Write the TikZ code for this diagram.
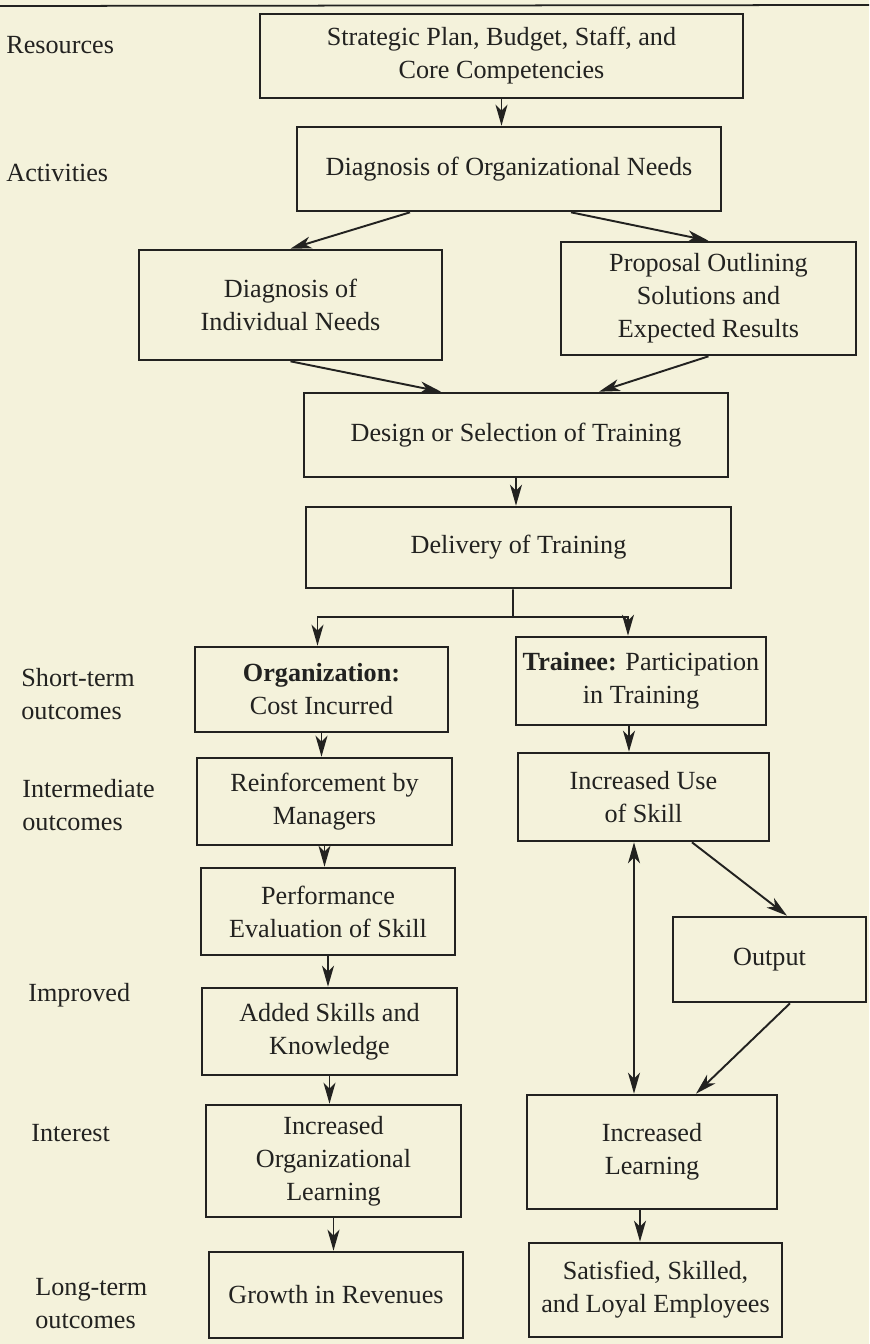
\documentclass[tikz,border=0pt]{standalone}
\usepackage{fontspec}
\setmainfont{Liberation Serif}
\usepackage{tikz}
\usetikzlibrary{arrows.meta,positioning}
\definecolor{paper}{HTML}{F4F2DB}
\definecolor{ink}{HTML}{222220}
\tikzset{
	box/.style={draw=ink,rectangle,align=center,line width=1.5pt,inner sep=2pt,text=ink,font=\fontsize{14.9}{18.8}\selectfont},
	stage/.style={anchor=west,align=left,inner xsep=0pt,text=ink,font=\fontsize{14.9}{18.8}\selectfont},
	link/.style={draw=ink,line width=1.1pt},
	>={Stealth[length=0.42cm,width=0.24cm,inset=0.12cm]}
}

\begin{document}
\begin{tikzpicture}
		\fill[paper] (0,0) rectangle (17.38,-26.88);
		\useasboundingbox (0,0) rectangle (17.38,-26.88);
		\draw[ink,line width=1pt] (0,-0.12) -- (17.38,-0.1);
		
		% stages on the left
		\node[stage] (res) at (0.12,-0.90) {Resources};
		\node[stage] (act) at (0.12,-3.46) {Activities};
		\node[stage] (short) at (0.42,-13.88) {Short-term\\outcomes};
		\node[stage] (inter) at (0.44,-16.10) {Intermediate\\outcomes};
		\node[stage] (impr) at (0.56,-19.90) {Improved};
		\node[stage] (intr) at (0.62,-22.66) {Interest};
		\node[stage] (long) at (0.70,-26.08) {Long-term\\outcomes};
		
		% activities
		\node[box,minimum width=9.66cm,minimum height=1.68cm] (strat) at (10.03,-1.12) {Strategic Plan, Budget, Staff, and\\Core Competencies};
		\node[box,minimum width=8.48cm,minimum height=1.68cm] (orgneeds) at (10.18,-3.38) {Diagnosis of Organizational Needs};
		\node[box,minimum width=6.06cm,minimum height=2.20cm] (indneeds) at (5.81,-6.10) {Diagnosis of\\Individual Needs};
		\node[box,minimum width=5.90cm,minimum height=2.26cm] (proposal) at (14.17,-5.97) {Proposal Outlining\\Solutions and\\Expected Results};
		\node[box,minimum width=8.48cm,minimum height=1.68cm] (design) at (10.32,-8.70) {Design or Selection of Training};
		\node[box,minimum width=8.50cm,minimum height=1.62cm] (delivery) at (10.37,-10.95) {Delivery of Training};
		\coordinate (split) at (10.26,-12.34); % branch point
		
		% organization side
		\node[box,minimum width=5.06cm,minimum height=1.70cm] (org) at (6.43,-13.79) {\textbf{Organization:}\\Cost Incurred};
		\node[box,minimum width=5.10cm,minimum height=1.74cm] (reinf) at (6.49,-16.03) {Reinforcement by\\Managers};
		\node[box,minimum width=5.08cm,minimum height=1.74cm] (perf) at (6.56,-18.23) {Performance\\Evaluation of Skill};
		\node[box,minimum width=5.10cm,minimum height=1.74cm] (added) at (6.59,-20.63) {Added Skills and\\Knowledge};
		\node[box,minimum width=5.10cm,minimum height=2.24cm] (incorg) at (6.67,-23.22) {Increased\\Organizational\\Learning};
		\node[box,minimum width=5.08cm,minimum height=1.72cm] (growth) at (6.72,-25.90) {Growth in Revenues};
		
		% trainee side
		\node[box,minimum width=5.00cm,minimum height=1.76cm] (trainee) at (12.82,-13.62) {\textbf{Trainee:} Participation\\in Training};
		\node[box,minimum width=5.02cm,minimum height=1.76cm] (incuse) at (12.87,-15.94) {Increased Use\\of Skill};
		\node[box,minimum width=3.86cm,minimum height=1.70cm] (output) at (15.39,-19.19) {Output};
		\node[box,minimum width=5.00cm,minimum height=2.28cm] (inclearn) at (13.04,-23.04) {Increased\\Learning};
		\node[box,minimum width=5.06cm,minimum height=1.88cm] (satisfied) at (13.11,-25.80) {Satisfied, Skilled,\\and Loyal Employees};
		
		\draw[->,link] (strat.south) -- (strat.south |- orgneeds.north);
		\draw[->,link] ([xshift=-1.98cm]orgneeds.south) -- (indneeds.north);
		\draw[->,link] ([xshift=1.24cm]orgneeds.south) -- (proposal.north);
		\draw[->,link] (indneeds.south) -- ([xshift=-1.5cm]design.north);
		\draw[->,link] (proposal.south) -- ([xshift=1.66cm]design.north);
		\draw[->,link] (design.south) -- (design.south |- delivery.north);
		\draw[link] ([xshift=-0.11cm]delivery.south) -- (split);
		\draw[->,link] (split) -| ([xshift=-0.08cm]org.north);
		\draw[->,link] (split) -| ([xshift=-0.26cm]trainee.north);
		
		\draw[->,link] (org.south) -- (org.south |- reinf.north);
		\draw[->,link] (reinf.south) -- (reinf.south |- perf.north);
		\draw[->,link] (perf.south) -- (perf.south |- added.north);
		\draw[->,link] (added.south) -- (added.south |- incorg.north);
		\draw[->,link] (incorg.south) -- (incorg.south |- growth.north);
		
		\draw[->,link] ([xshift=-0.24cm]trainee.south) -- ([xshift=-0.24cm]trainee.south |- incuse.north);
		\draw[->,link] ([xshift=0.97cm]incuse.south) -- ([xshift=0.35cm]output.north);
		\draw[->,link] ([xshift=0.41cm]output.south) -- ([xshift=0.88cm]inclearn.north);
		\draw[<->,link] ([xshift=-0.19cm]incuse.south) -- ([xshift=-0.19cm]incuse.south |- inclearn.north); % use <-> learning
		\draw[->,link] ([xshift=-0.24cm]inclearn.south) -- ([xshift=-0.24cm]inclearn.south |- satisfied.north);
	\end{tikzpicture}
\end{document}
